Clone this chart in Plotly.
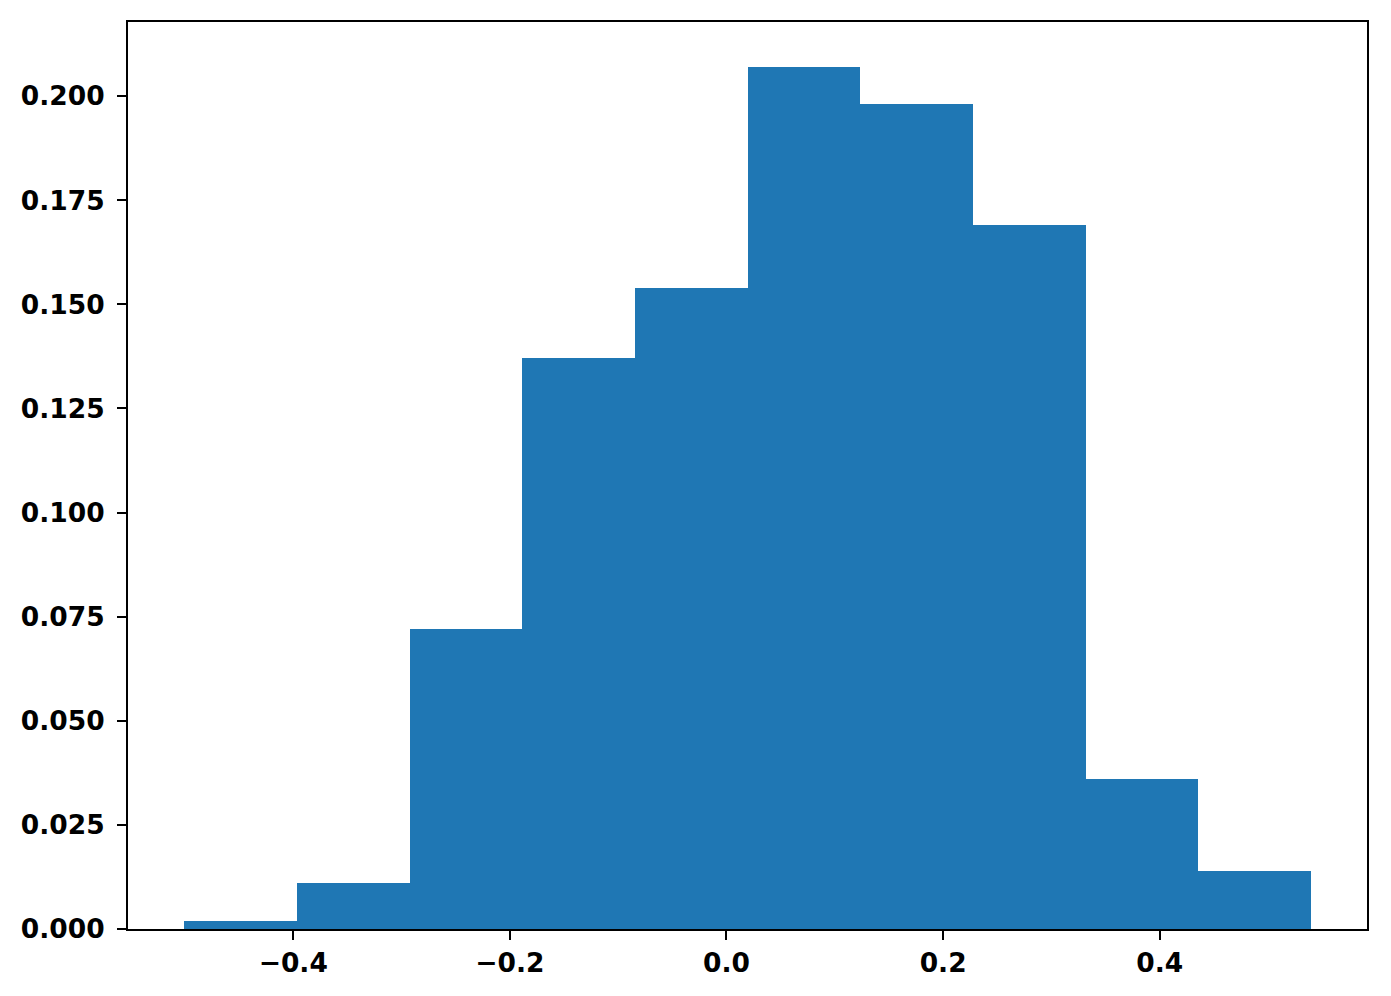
import plotly.graph_objects as go

# histogram (density-style weights, sums to 1)
bin_edges = [-0.5006, -0.3964, -0.2924, -0.1884, -0.0844, 0.0196,
             0.1236, 0.2276, 0.3316, 0.4355, 0.5394]
bin_heights = [0.002, 0.011, 0.072, 0.137, 0.154, 0.207, 0.198, 0.169, 0.036, 0.014]

x_ticks = [-0.4, -0.2, 0.0, 0.2, 0.4]
x_tick_text = ['\u22120.4', '\u22120.2', '0.0', '0.2', '0.4']
y_ticks = [0.0, 0.025, 0.05, 0.075, 0.1, 0.125, 0.15, 0.175, 0.2]
y_tick_text = ['0.000', '0.025', '0.050', '0.075', '0.100', '0.125', '0.150', '0.175', '0.200']

centers = [(a + b) / 2 for a, b in zip(bin_edges[:-1], bin_edges[1:])]
widths = [b - a for a, b in zip(bin_edges[:-1], bin_edges[1:])]

fig = go.Figure(go.Bar(
    x=centers,
    y=bin_heights,
    width=widths,
    marker=dict(color='#1f77b4', line=dict(width=0)),
))

axis_style = dict(
    showline=True, linecolor='black', linewidth=2, mirror=True,
    ticks='outside', ticklen=9, tickwidth=2, tickcolor='black',
    showgrid=False, zeroline=False,
    tickfont=dict(family='DejaVu Sans', size=26.5, color='black', weight='bold'),
)

# page body adds an 8px offset, so the figure is 8px smaller
fig.update_layout(
    width=1383, height=988,
    margin=dict(l=120, r=24, t=14, b=67),
    plot_bgcolor='white', paper_bgcolor='white',
    showlegend=False,
    bargap=0,
    xaxis=dict(range=[-0.5526, 0.5914], tickvals=x_ticks, ticktext=x_tick_text, **axis_style),
    yaxis=dict(range=[0, 0.2178], tickvals=y_ticks, ticktext=y_tick_text,
               ticklabelstandoff=7, **axis_style),
)

fig.write_html("out.html")
